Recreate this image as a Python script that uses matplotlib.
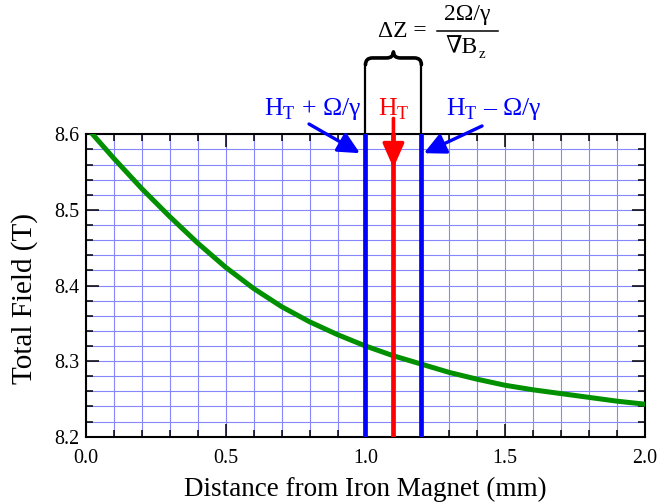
import matplotlib
matplotlib.use("Agg")
import matplotlib.pyplot as plt
from matplotlib.path import Path
from matplotlib.patches import PathPatch
from matplotlib.ticker import MultipleLocator

# total field vs. distance from the iron magnet
dist = [0.0, 0.1, 0.2, 0.3, 0.4, 0.5, 0.6, 0.7, 0.8, 0.9, 1.0,
        1.1, 1.2, 1.3, 1.4, 1.5, 1.6, 1.7, 1.8, 1.9, 2.0]
field = [8.610, 8.568, 8.528, 8.491, 8.456, 8.424, 8.396, 8.372, 8.352, 8.335, 8.320,
         8.307, 8.296, 8.285, 8.276, 8.268, 8.262, 8.257, 8.252, 8.247, 8.243]

# resonance positions
z_plus = 1.0
z_res = 1.1
z_minus = 1.2

plt.rcParams['font.family'] = ['Liberation Serif', 'DejaVu Serif']
plt.rcParams['mathtext.fontset'] = 'custom'
plt.rcParams['mathtext.rm'] = 'Liberation Serif'
plt.rcParams['mathtext.fallback'] = 'stix'

fig = plt.figure(figsize=(6.58, 5.03), dpi=100)
ax = fig.add_axes([0.1307, 0.1318, 0.8495, 0.6012])

ax.set_xlim(0, 2.0)
ax.set_ylim(8.2, 8.6)
ax.xaxis.set_major_locator(MultipleLocator(0.5))
ax.xaxis.set_minor_locator(MultipleLocator(0.1))
ax.yaxis.set_major_locator(MultipleLocator(0.1))
ax.yaxis.set_minor_locator(MultipleLocator(0.02))
ax.xaxis.set_major_formatter('{x:.1f}')
ax.yaxis.set_major_formatter('{x:.1f}')

ax.grid(which='both', color='#8686ff', lw=0.8)
ax.set_axisbelow(True)
ax.tick_params(which='both', direction='in', top=True, right=True, width=1.1, labelsize=14.4)
ax.tick_params(which='major', length=9.5)
ax.tick_params(which='minor', length=5)
ax.tick_params(axis='x', pad=9)
ax.tick_params(axis='y', pad=5)
for s in ax.spines.values():
    s.set_linewidth(1.5)

ax.plot(dist, field, color='#009000', lw=3.6, zorder=3)

for z, c in [(z_plus, 'blue'), (z_res, 'red'), (z_minus, 'blue')]:
    ax.axvline(z, color=c, lw=3.4, zorder=4)

ax.set_xlabel('Distance from Iron Magnet (mm)', fontsize=19.5, labelpad=6)
ax.set_ylabel('Total Field (T)', fontsize=21)
ax.yaxis.set_label_coords(-0.086, 0.457)

# bracket above the two outer lines
y_top = 8.6
y_end = 8.692
ax.plot([z_plus, z_plus], [y_top, y_end], color='black', lw=1.6, clip_on=False)
ax.plot([z_minus, z_minus], [y_top, y_end], color='black', lw=1.6, clip_on=False)
y_mid = 8.701
y_tip = 8.709
verts = [(z_plus, y_end), (z_plus, y_mid), (z_plus + 0.025, y_mid),
         (z_res - 0.025, y_mid), (z_res, y_mid), (z_res, y_tip),
         (z_res, y_mid), (z_res + 0.025, y_mid),
         (z_minus - 0.025, y_mid), (z_minus, y_mid), (z_minus, y_end)]
codes = [Path.MOVETO, Path.CURVE3, Path.CURVE3,
         Path.LINETO, Path.CURVE3, Path.CURVE3,
         Path.CURVE3, Path.CURVE3,
         Path.LINETO, Path.CURVE3, Path.CURVE3]
ax.add_patch(PathPatch(Path(verts, codes), fill=False, lw=2.6, ec='black',
                       capstyle='round', joinstyle='round', clip_on=False))

# Delta Z formula
ax.text(1.22, 8.7355, 'ΔZ =', fontsize=17, ha='right', va='center', clip_on=False)
ax.plot([1.256, 1.474], [8.737, 8.737], color='black', lw=1.1, clip_on=False)
ax.text(1.365, 8.7512, '2Ω/γ', fontsize=17, ha='center', va='baseline', clip_on=False)
ax.text(1.4025, 8.7075, '∇B', fontsize=17, ha='right', va='baseline', clip_on=False)
ax.text(1.404, 8.7015, 'z', fontsize=11, ha='left', va='baseline', clip_on=False)

# line labels and arrows
ax.text(0.81, 8.6255, 'H$_\\mathrm{T}$ + Ω/γ', color='blue', fontsize=18.5,
        ha='center', va='baseline', clip_on=False)
ax.text(z_res, 8.6255, 'H$_\\mathrm{T}$', color='red', fontsize=18.5,
        ha='center', va='baseline', clip_on=False)
ax.text(1.457, 8.6255, 'H$_\\mathrm{T}$ \u2013 Ω/γ', color='blue', fontsize=18.5,
        ha='center', va='baseline', clip_on=False)

ax.annotate('', xy=(0.98, 8.575), xytext=(0.798, 8.6136),
            arrowprops=dict(arrowstyle='-|>,head_length=0.65,head_width=0.32',
                            color='blue', lw=2.4, mutation_scale=20,
                            shrinkA=0, shrinkB=0), annotation_clip=False, zorder=5)
ax.annotate('', xy=(1.209, 8.575), xytext=(1.417, 8.611),
            arrowprops=dict(arrowstyle='-|>,head_length=0.65,head_width=0.32',
                            color='blue', lw=2.4, mutation_scale=20,
                            shrinkA=0, shrinkB=0), annotation_clip=False, zorder=5)
ax.annotate('', xy=(z_res, 8.5555), xytext=(z_res, 8.621),
            arrowprops=dict(arrowstyle='-|>,head_length=0.75,head_width=0.33',
                            color='red', lw=2.6, mutation_scale=20,
                            shrinkA=0, shrinkB=0), annotation_clip=False, zorder=6)

fig.savefig('out.png', dpi=100)
